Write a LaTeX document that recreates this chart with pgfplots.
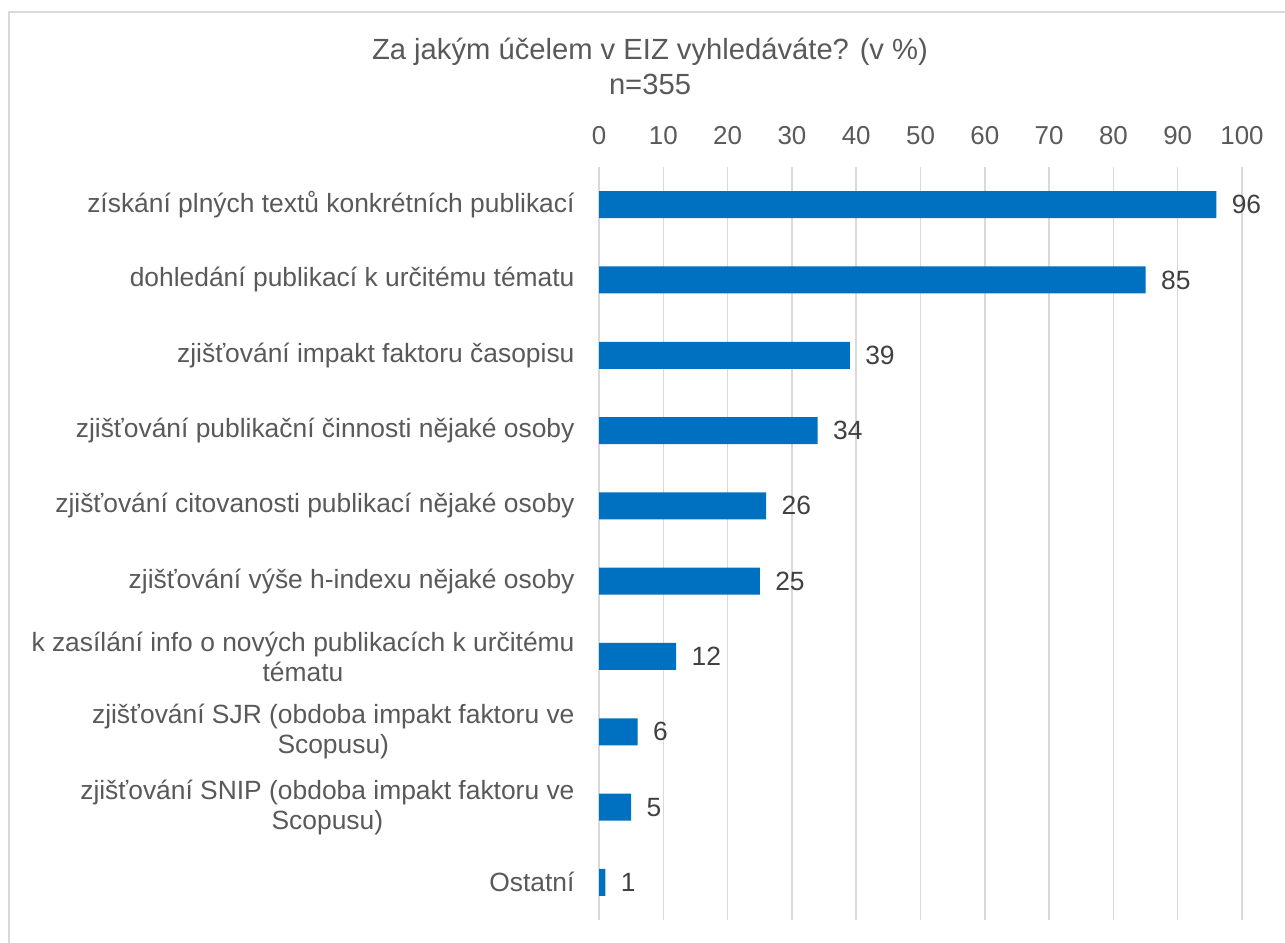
\documentclass[border=0pt]{standalone}
\usepackage{pgfplots}
\pgfplotsset{compat=1.18}
\usepackage{fontspec}
\setmainfont{Liberation Sans}
\definecolor{barblue}{HTML}{0070C0}
\definecolor{txt}{HTML}{595959}
\definecolor{grd}{HTML}{D9D9D9}
\definecolor{val}{HTML}{404040}
\begin{document}
\begin{tikzpicture}[x=1bp,y=1bp]
\useasboundingbox (0,0) rectangle (1285,-943);
\draw[grd, line width=2bp] (9,-943) -- (9,-12) -- (1285,-12);
\node[anchor=base, text=txt, font=\fontsize{29.3}{35}\selectfont] at (650,-59) {Za jakým účelem v EIZ vyhledáváte? (v \%)};
\node[anchor=base, text=txt, font=\fontsize{29.3}{35}\selectfont] at (650,-94) {n=355};
\begin{axis}[
  at={(599bp,-920bp)}, anchor=south west,
  width=643bp, height=753bp, scale only axis,
  xbar, bar width=27bp,
  xmin=0, xmax=100, ymin=0.5, ymax=10.5, y dir=reverse,
  xtick={0,10,...,100}, ytick={1,...,10},
  yticklabels={
    {získání plných textů konkrétních publikací},
    {dohledání publikací k určitému tématu},
    {zjišťování impakt faktoru časopisu},
    {zjišťování publikační činnosti nějaké osoby},
    {zjišťování citovanosti publikací nějaké osoby},
    {zjišťování výše h-indexu nějaké osoby},
    {k zasílání info o nových publikacích k určitému\\tématu},
    {zjišťování SJR (obdoba impakt faktoru ve\\Scopusu)},
    {zjišťování SNIP (obdoba impakt faktoru ve\\Scopusu)},
    {Ostatní}},
  xticklabel pos=upper,
  axis line style={draw=none},
  major tick length=0pt,
  xmajorgrids, grid style={grd, line width=1.5bp},
  xticklabel style={font=\fontsize{26}{31}\selectfont, text=txt, anchor=base, yshift=23bp},
  yticklabel style={font=\fontsize{26.5}{30}\selectfont, text=txt, align=center, anchor=east, xshift=-21bp},
  /pgf/number format/assume math mode=true,
  nodes near coords,
  point meta=x,
  nodes near coords style={font=\fontsize{26.5}{31}\selectfont, text=val, anchor=west, xshift=12bp},
]
\addplot[fill=barblue, draw=none] coordinates {
  (96,1) (85,2) (39,3) (34,4) (26,5) (25,6) (12,7) (6,8) (5,9) (1,10)};
\end{axis}
\end{tikzpicture}
\end{document}
